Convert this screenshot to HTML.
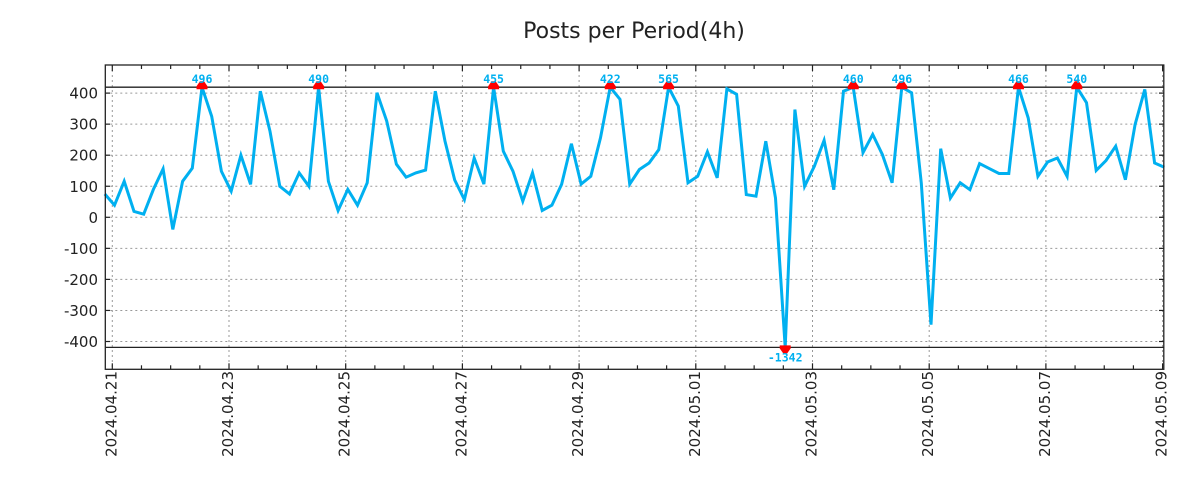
<!DOCTYPE html>
<html><head><meta charset="utf-8"><style>
html,body{margin:0;padding:0;background:#fff;width:1200px;height:500px;overflow:hidden}
svg{display:block;font-family:"DejaVu Sans","Liberation Sans",sans-serif}
</style></head><body>
<svg id="chart" width="1200" height="500">
<text x="634" y="38" text-anchor="middle" font-size="22" fill="#222">Posts per Period(4h)</text>
<g id="grid"></g><g id="axes"></g><g id="series"></g><g id="marks"></g>
<rect x="105.3" y="65" width="1058.5" height="304.3" fill="none" stroke="#222" stroke-width="1.3"/>
</svg>
<script>
const values=[75,39,116,19,10,90,156,-39,116,158,496,325,148,84,200,106,406,277,100,75,143,100,490,116,22,90,39,111,401,310,171,129,143,152,406,245,120,57,191,107,455,213,148,52,143,22,39,106,237,107,132,256,422,380,107,154,175,218,565,358,111,132,211,127,414,396,73,68,245,62,-1342,347,100,165,248,89,406,460,208,267,202,111,496,401,110,-346,221,62,111,89,173,157,141,141,466,320,132,178,191,132,540,369,151,183,229,121,299,412,175,161];
const yTicks=[-400,-300,-200,-100,0,100,200,300,400];
const dateLabels=["2024.04.21","2024.04.23","2024.04.25","2024.04.27","2024.04.29","2024.05.01","2024.05.03","2024.05.05","2024.05.07","2024.05.09"];
const clipMax=419, clipMin=-419;
const NS="http://www.w3.org/2000/svg";
const X0=104.8, DX=9.72, DAY0=112.3, DAYW=58.35;
const xOf=i=>X0+DX*i;
const yOf=v=>217.3-0.3105*v;
const dayX=d=>DAY0+DAYW*d;
function mk(t,a,p){const e=document.createElementNS(NS,t);for(const k in a)e.setAttribute(k,a[k]);p.appendChild(e);return e;}
const grid=document.getElementById('grid'),axes=document.getElementById('axes'),series=document.getElementById('series'),marks=document.getElementById('marks');
yTicks.forEach(v=>{const y=yOf(v);
 const g=mk('line',{x1:105.3,x2:1163.8,y1:y,y2:y,stroke:'#999','stroke-dasharray':'2,3','stroke-width':1},grid);
 
 
 const t=mk('line',{x1:105.3,x2:110,y1:y,y2:y,stroke:'#222','stroke-width':1.2},axes);
 
 
 const t2=mk('line',{x1:1159,x2:1163.8,y1:y,y2:y,stroke:'#222','stroke-width':1.2},axes);
 
 
 const l=mk('text',{x:98,y:y+5.5,'text-anchor':'end','font-size':15,fill:'#222'},axes);l.textContent=v;
 
 
});
dateLabels.forEach((d,k)=>{const x=dayX(2*k);
 const g=mk('line',{x1:x,x2:x,y1:65,y2:369.3,stroke:'#999','stroke-dasharray':'2,3','stroke-width':1},grid);
 
 
 const l=mk('text',{x:0,y:0,'text-anchor':'end','font-size':15,fill:'#222',transform:`translate(${x+4},371) rotate(-90)`},axes);l.textContent=d;
 
 
});
for(let h=0;h<=36;h++){const x=dayX(h/2);const len=(h%4===0)?6:4;
 const t=mk('line',{x1:x,x2:x,y1:369.3-len,y2:369.3,stroke:'#222','stroke-width':1.2},axes);
 
 
 const t2=mk('line',{x1:x,x2:x,y1:65,y2:65+len,stroke:'#222','stroke-width':1.2},axes);
 
 
}
[clipMax,clipMin].forEach(c=>{const y=yOf(c);
 const l=mk('line',{x1:105.3,x2:1163.8,y1:y,y2:y,stroke:'#222','stroke-width':1.3},grid);
 
 
});
const pts=values.map((v,i)=>xOf(i).toFixed(1)+','+yOf(Math.max(clipMin,Math.min(clipMax,v))).toFixed(1)).join(' ');
const pl=mk('polyline',{points:pts,fill:'none',stroke:'#00b0f0','stroke-width':3,'stroke-linejoin':'miter'},series);


values.forEach((v,i)=>{if(v>clipMax||v<clipMin){const x=xOf(i);const up=v>clipMax;const y=yOf(up?clipMax:clipMin);
 const tri=mk('polygon',{points:up?`${x-5.5},${y+2} ${x+5.5},${y+2} ${x+5.5},${y-1} ${x+2},${y-6} ${x-2},${y-6} ${x-5.5},${y-1}`:`${x-5.5},${y-2} ${x+5.5},${y-2} ${x+5.5},${y+1} ${x+2},${y+6} ${x-2},${y+6} ${x-5.5},${y+1}`,fill:'#f00'},marks);
 
 
 const t=mk('text',{x:x,y:up?y-4:y+14,'text-anchor':'middle','font-size':11.5,'font-weight':'bold','font-family':'"DejaVu Sans Mono","Liberation Mono",monospace',fill:'#00b0f0'},marks);t.textContent=v;
 
 
}});
</script>
</body></html>
